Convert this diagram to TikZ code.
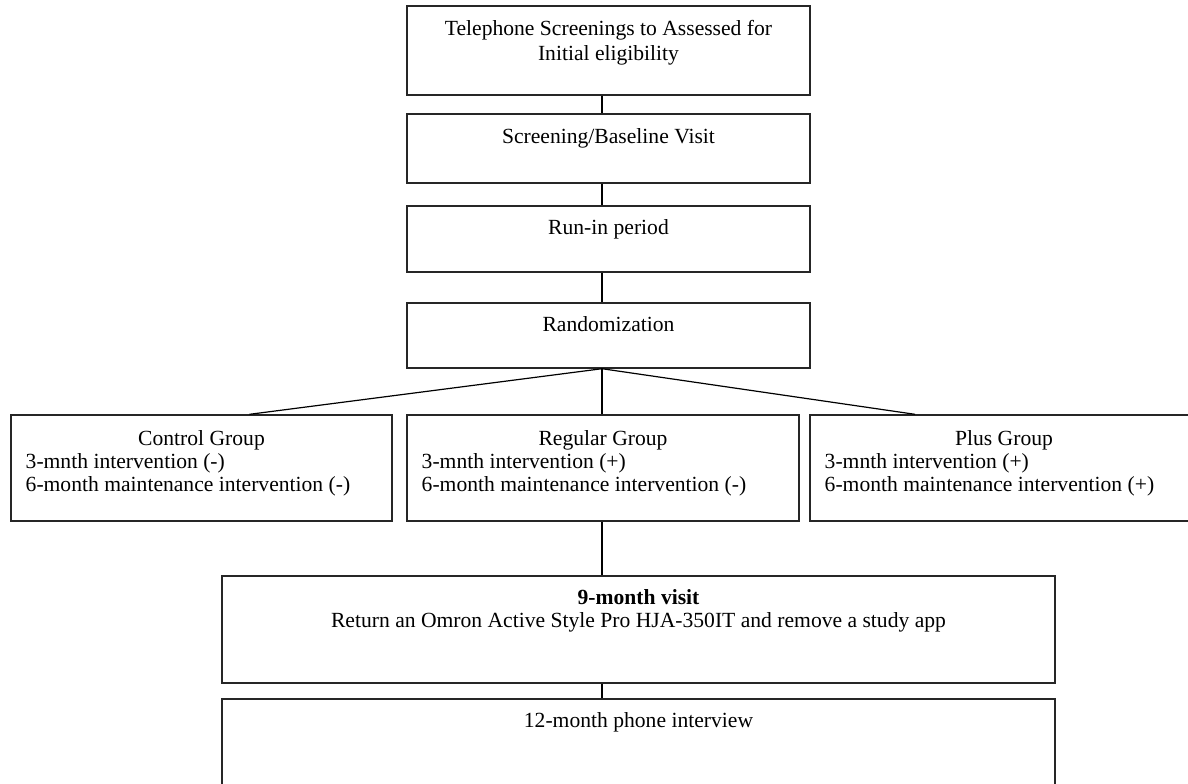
\documentclass[tikz,border=0pt]{standalone}
\usepackage{fontspec}
\setmainfont{Liberation Serif}
\usetikzlibrary{positioning,calc,fit}

\begin{document}
\begin{tikzpicture}[
    x=0.5pt, y=-0.5pt,
    font=\fontsize{10.8}{12}\selectfont,
    box/.style={rectangle, draw=black!85, line width=0.7pt, inner sep=0pt},
    txt/.style={inner sep=0pt, text=black},
    link/.style={draw=black, line width=0.6pt}
]
\useasboundingbox (0,0) rectangle (1188,783);
\coordinate (spine) at (602,0);

% ---- screening chain
\node[box, fit={(407,6) (810,95)}]    (phone) {};
\node[box, fit={(407,114) (810,183)}] (visit) {};
\node[box, fit={(407,206) (810,272)}] (runin) {};
\node[box, fit={(407,303) (810,368)}] (rand)  {};

% ---- study arms
\node[box, fit={(11,415) (392,521)}]   (ctrl) {};
\node[box, fit={(407,415) (799,521)}]  (reg)  {};
\node[box, fit={(810,415) (1198,521)}] (plus) {};

% ---- follow-up
\node[box, fit={(222,576) (1055,683)}] (visit9)  {};
\node[box, fit={(222,699) (1055,800)}] (phone12) {};

% ---- texts
\node[txt, anchor=base] (phone-t1) at ($(phone.north)+(0,30)$) {Telephone Screenings to Assessed for};
\node[txt, anchor=base] (phone-t2) at ($(phone.north)+(0,55)$) {Initial eligibility};
\node[txt, anchor=base] (visit-t)  at ($(visit.north)+(0,30)$) {Screening/Baseline Visit};
\node[txt, anchor=base] (runin-t)  at ($(runin.north)+(0,29)$) {Run-in period};
\node[txt, anchor=base] (rand-t)   at ($(rand.north)+(0,29)$)  {Randomization};

\node[txt, anchor=base]      (ctrl-h)  at ($(ctrl.north)+(0,31)$)       {Control Group};
\node[txt, anchor=base west] (ctrl-l1) at ($(ctrl.north west)+(15,54)$) {3-mnth intervention (-)};
\node[txt, anchor=base west] (ctrl-l2) at ($(ctrl.north west)+(15,77)$) {6-month maintenance intervention (-)};

\node[txt, anchor=base]      (reg-h)  at ($(reg.north)+(0,31)$)       {Regular Group};
\node[txt, anchor=base west] (reg-l1) at ($(reg.north west)+(15,54)$) {3-mnth intervention (+)};
\node[txt, anchor=base west] (reg-l2) at ($(reg.north west)+(15,77)$) {6-month maintenance intervention (-)};

\node[txt, anchor=base]      (plus-h)  at ($(plus.north)+(0,31)$)       {Plus Group};
\node[txt, anchor=base west] (plus-l1) at ($(plus.north west)+(15,54)$) {3-mnth intervention (+)};
\node[txt, anchor=base west] (plus-l2) at ($(plus.north west)+(15,77)$) {6-month maintenance intervention (+)};

\node[txt, anchor=base] (visit9-h)  at ($(visit9.north)+(0,29)$)  {\textbf{9-month visit}};
\node[txt, anchor=base] (visit9-t)  at ($(visit9.north)+(0,52)$)  {Return an Omron Active Style Pro HJA-350IT and remove a study app};
\node[txt, anchor=base] (phone12-t) at ($(phone12.north)+(0,29)$) {12-month phone interview};

% ---- connectors
\draw[link] (phone.south -| spine) -- (visit.north -| spine);
\draw[link] (visit.south -| spine) -- (runin.north -| spine);
\draw[link] (runin.south -| spine) -- (rand.north -| spine);
\draw[link] (rand.south -| spine) -- ([xshift=24pt]ctrl.north);
\draw[link] (rand.south -| spine) -- (reg.north -| spine);
\draw[link] (rand.south -| spine) -- ([xshift=-44.5pt]plus.north);
\draw[link] (reg.south -| spine) -- (visit9.north -| spine);
\draw[link] (visit9.south -| spine) -- (phone12.north -| spine);

\end{tikzpicture}
\end{document}
